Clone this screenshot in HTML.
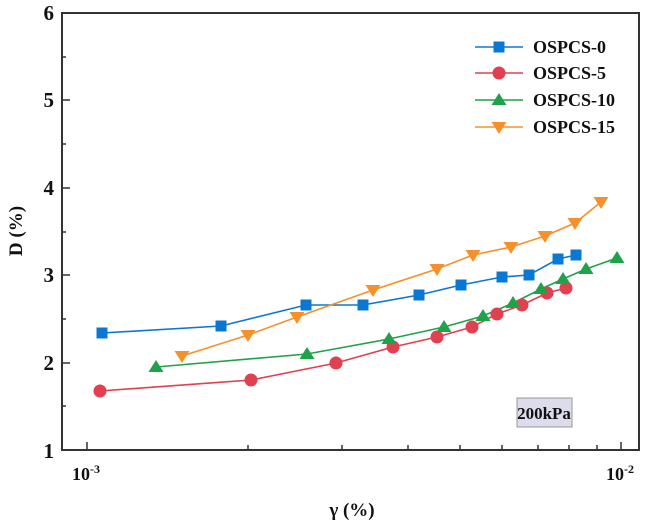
<!DOCTYPE html><html><head><style>body{margin:0;background:#fff}</style></head><body>
<svg width="651" height="524" xmlns="http://www.w3.org/2000/svg" font-family="Liberation Serif, serif" font-weight="bold">
<defs>
<g id="sq"><rect x="-5.5" y="-5.5" width="11" height="11" fill="#0a78d2"/></g>
<g id="ci"><circle r="6.5" fill="#e0404f"/></g>
<g id="tu"><polygon points="0,-7 7.5,5 -7.5,5" fill="#1fa24a"/></g>
<g id="td"><polygon points="0,7 7.5,-5 -7.5,-5" fill="#f5902a"/></g>
</defs>
<rect x="62" y="13" width="577" height="437" fill="none" stroke="#333" stroke-width="2"/>
<g stroke="#333" stroke-width="1.5">
<line x1="62" y1="100" x2="70" y2="100"/><line x1="62" y1="188" x2="70" y2="188"/><line x1="62" y1="275" x2="70" y2="275"/><line x1="62" y1="363" x2="70" y2="363"/>
<line x1="62" y1="57" x2="66" y2="57"/><line x1="62" y1="144" x2="66" y2="144"/><line x1="62" y1="232" x2="66" y2="232"/><line x1="62" y1="319" x2="66" y2="319"/><line x1="62" y1="406" x2="66" y2="406"/>
<line x1="87" y1="450" x2="87" y2="442"/><line x1="621" y1="450" x2="621" y2="442"/>
<line x1="248" y1="450" x2="248" y2="445"/><line x1="342" y1="450" x2="342" y2="445"/><line x1="408" y1="450" x2="408" y2="445"/><line x1="460" y1="450" x2="460" y2="445"/><line x1="502" y1="450" x2="502" y2="445"/><line x1="538" y1="450" x2="538" y2="445"/><line x1="569" y1="450" x2="569" y2="445"/><line x1="597" y1="450" x2="597" y2="445"/>
</g>
<g font-size="21" text-anchor="end" fill="#111">
<text x="54" y="20">6</text><text x="54" y="107">5</text><text x="54" y="195">4</text><text x="54" y="282">3</text><text x="54" y="370">2</text><text x="54" y="458">1</text>
</g>
<text x="72" y="480" font-size="18" fill="#111">10<tspan dy="-7" font-size="12">-3</tspan></text>
<text x="606" y="480" font-size="18" fill="#111">10<tspan dy="-7" font-size="12">-2</tspan></text>
<text x="352" y="516" font-size="19" text-anchor="middle" fill="#111">γ (%)</text>
<text transform="translate(22,231) rotate(-90)" font-size="19" text-anchor="middle" fill="#111">D (%)</text>
<rect x="517" y="398" width="55" height="29" fill="#dcdcec" stroke="#999"/>
<text x="544" y="419" font-size="17" text-anchor="middle" fill="#111">200kPa</text>
<g fill="none" stroke-width="1.6">
<polyline stroke="#0a78d2" points="102,333 221,326 306,305 363,305 419,295 461,285 502,277 529,275 558,259 576,255"/>
<polyline stroke="#e0404f" points="100,391 251,380 336,363 393,347 437,337 472,327 497,314 522,305 547,293 566,288"/>
<polyline stroke="#1fa24a" points="156,367 307,354 389,339 444,327 483,316 513,303 541,289 563,279 586,269 617,258"/>
<polyline stroke="#f5902a" points="182,356 248,335 297,317 373,290 437,269 473,255 511,247 545,236 575,223 601,202"/>
<line stroke="#0a78d2" x1="475" y1="47" x2="523" y2="47"/>
<line stroke="#e0404f" x1="475" y1="73" x2="523" y2="73"/>
<line stroke="#1fa24a" x1="475" y1="100" x2="523" y2="100"/>
<line stroke="#f5902a" x1="475" y1="127" x2="523" y2="127"/>
</g>
<g>
<use href="#sq" x="102" y="333"/><use href="#sq" x="221" y="326"/><use href="#sq" x="306" y="305"/><use href="#sq" x="363" y="305"/><use href="#sq" x="419" y="295"/><use href="#sq" x="461" y="285"/><use href="#sq" x="502" y="277"/><use href="#sq" x="529" y="275"/><use href="#sq" x="558" y="259"/><use href="#sq" x="576" y="255"/>
<use href="#ci" x="100" y="391"/><use href="#ci" x="251" y="380"/><use href="#ci" x="336" y="363"/><use href="#ci" x="393" y="347"/><use href="#ci" x="437" y="337"/><use href="#ci" x="472" y="327"/><use href="#ci" x="497" y="314"/><use href="#ci" x="522" y="305"/><use href="#ci" x="547" y="293"/><use href="#ci" x="566" y="288"/>
<use href="#tu" x="156" y="367"/><use href="#tu" x="307" y="354"/><use href="#tu" x="389" y="339"/><use href="#tu" x="444" y="327"/><use href="#tu" x="483" y="316"/><use href="#tu" x="513" y="303"/><use href="#tu" x="541" y="289"/><use href="#tu" x="563" y="279"/><use href="#tu" x="586" y="269"/><use href="#tu" x="617" y="258"/>
<use href="#td" x="182" y="356"/><use href="#td" x="248" y="335"/><use href="#td" x="297" y="317"/><use href="#td" x="373" y="290"/><use href="#td" x="437" y="269"/><use href="#td" x="473" y="255"/><use href="#td" x="511" y="247"/><use href="#td" x="545" y="236"/><use href="#td" x="575" y="223"/><use href="#td" x="601" y="202"/>
<use href="#sq" x="499" y="47"/><use href="#ci" x="499" y="73"/><use href="#tu" x="499" y="100"/><use href="#td" x="499" y="127"/>
</g>
<g font-size="18" fill="#111">
<text x="533" y="53">OSPCS-0</text><text x="533" y="79">OSPCS-5</text><text x="533" y="106">OSPCS-10</text><text x="533" y="133">OSPCS-15</text>
</g>
</svg>
</body></html>
